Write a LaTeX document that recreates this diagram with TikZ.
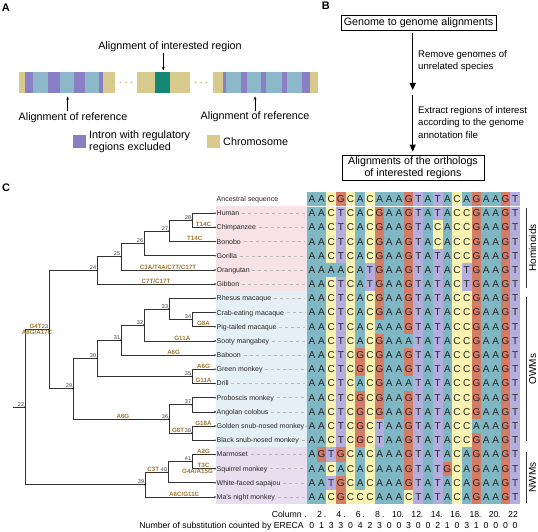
\documentclass[tikz,border=0pt]{standalone}
\usepackage{fontspec}
\setmainfont{Liberation Sans}
\usepackage{xstring}
\usetikzlibrary{arrows.meta}

\definecolor{intron}{RGB}{138,126,196}
\definecolor{exon}{RGB}{141,184,201}
\definecolor{chrom}{RGB}{216,202,140}
\definecolor{region}{RGB}{20,134,118}
\definecolor{nucA}{RGB}{128,183,196}
\definecolor{nucC}{RGB}{248,243,178}
\definecolor{nucG}{RGB}{212,124,102}
\definecolor{nucT}{RGB}{181,173,221}
\definecolor{mutcol}{RGB}{158,117,46}
\definecolor{hominoid}{RGB}{247,226,231}
\definecolor{owm}{RGB}{229,240,246}
\definecolor{nwm}{RGB}{231,222,240}

\begin{document}
\begin{tikzpicture}[x=1pt, y=-1pt,
    panel/.style={anchor=north west, inner sep=0pt, font=\bfseries\fontsize{11}{11}\selectfont},
    txt/.style={inner sep=0pt, font=\fontsize{10.8}{12}\selectfont},
    note/.style={inner sep=0pt, align=left, font=\fontsize{9.6}{12.5}\selectfont},
    stepbox/.style={draw, line width=0.8pt, inner sep=0pt, align=center, font=\fontsize{10.7}{11.8}\selectfont},
    flow/.style={line width=1.3pt, -{Triangle[length=7pt,width=6pt]}},
    pointer/.style={line width=0.6pt, -{Stealth[length=3.5pt,width=2.6pt]}},
    sp/.style={anchor=west, inner xsep=1.5pt, inner ysep=0pt, text height=5pt, text depth=0pt, font=\fontsize{7}{7}\selectfont, text=black!85},
    guide/.style={gray!55, line width=0.4pt, dash pattern=on 3pt off 3pt},
    br/.style={line width=0.7pt, black!80},
    mut/.style={above, inner sep=0.4pt, text=mutcol, font=\bfseries\fontsize{6.2}{6.2}\selectfont},
    nid/.style={anchor=south east, inner sep=0.7pt, text=black!75, font=\fontsize{5.5}{5.5}\selectfont},
    nuc/.style={inner sep=0pt, text=black!85, font=\fontsize{10}{10}\selectfont},
    ruler/.style={anchor=base, inner sep=0pt, font=\fontsize{8.7}{8.7}\selectfont},
    grp/.style={rotate=90, inner sep=0pt, font=\fontsize{10}{10}\selectfont},
    grpline/.style={line width=0.6pt, black!80}]
\useasboundingbox (0,0) rectangle (538,532);

% ---------------- A: chromosome bars
\node[panel] at (1.7,3.3) {A};
\foreach \a/\b/\c in {19/25/chrom, 25/33/intron, 33/48/exon, 48/60/intron, 60/74/exon,
    74/85/intron, 85/99/exon, 99/103/intron, 103/115/chrom,
    137/155/chrom, 155/170/region, 170/190/chrom,
    213/223/chrom, 223/226/intron, 226/241/exon, 241/247/intron, 247/261/exon,
    261/266/intron, 266/282/exon, 282/287/intron, 287/302/exon, 302/310/intron, 310/318/chrom}
  \fill[\c] (\a,71.7) rectangle (\b,93.3);
\foreach \d in {120.5,126,131.5,195.5,201,206.5}
  \fill[chrom] (\d,82.5) circle (1.2);

\node[txt, anchor=base] (irlab) at (170,49.3) {Alignment of interested region};
\coordinate (irtip) at (163.3,70.5);
\draw[pointer] ([yshift=-0.8pt]irlab.south -| irtip) -- (irtip);

\node[txt, anchor=base] (refl) at (73,120.7) {Alignment of reference};
\node[txt, anchor=base] (refr) at (255,120) {Alignment of reference};
\coordinate (refltip) at (67.7,96.3);
\coordinate (refrtip) at (255,96.3);
\draw[pointer] ([yshift=1.2pt]refl.north -| refltip) -- (refltip);
\draw[pointer] ([yshift=1.2pt]refr.north -| refrtip) -- (refrtip);

% legend
\fill[intron] (73,135) rectangle (86,148);
\node[txt, anchor=west, align=left] (intronlab) at (89,141.5) {Intron with regulatory\\regions excluded};
\fill[chrom] (207,135) rectangle (220,148);
\node[txt, anchor=west] (chromlab) at (223,141.5) {Chromosome};

% ---------------- B: workflow
\node[panel] at (321.7,1.8) {B};
\node[stepbox, minimum width=155pt, minimum height=15pt] (g2g) at (418.5,22.5) {Genome to genome alignments};
\node[stepbox, minimum width=142pt, minimum height=25pt] (orth) at (413,167.5) {Alignments of the orthologs\\of interested regions};
\coordinate (gap) at (412.7,92.7);
\draw[flow] ([yshift=-3pt]g2g.south -| gap) -- ([yshift=2.7pt]gap);
\draw[flow] ([yshift=-2.3pt]gap) -- ([yshift=3pt]orth.north -| gap);
\node[note, anchor=west] (step1) at (418,61) {Remove genomes of\\unrelated species};
\node[note, anchor=west] (step2) at (418,122.5) {Extract regions of interest\\according to the genome\\annotation file};

% ---------------- C: tree and alignment
\node[panel] at (2,184) {C};
\fill[hominoid] (215.5,206.1) rectangle (307,291.2);
\fill[owm] (215.5,291.2) rectangle (307,447.3);
\fill[nwm] (215.5,447.3) rectangle (307,504.1);
\coordinate (alnleft) at (305,0);

\node[sp] (anc) at (215,199) {Ancestral sequence};
\foreach \nm/\lab [count=\r] in {human/Human, chimp/Chimpanzee, bonobo/Bonobo, gorilla/Gorilla,
    orangutan/Orangutan, gibbon/Gibbon, rhesus/Rhesus macaque, crab/Crab-eating macaque,
    pig/Pig-tailed macaque, sooty/Sooty mangabey, baboon/Baboon, greenmk/Green monkey,
    drill/Drill, proboscis/Proboscis monkey, colobus/Angolan colobus,
    golden/Golden snub-nosed monkey, blacksnub/Black snub-nosed monkey, marmoset/Marmoset,
    squirrel/Squirrel monkey, sapajou/White-faced sapajou, mas/Ma's night monkey} {
  \node[sp] (\nm) at (215,{199+14.19*\r}) {\lab};
  \draw[guide] ([xshift=1pt]\nm.east) -- (\nm.east -| alnleft);
  \fill[black!85] (\nm.west) circle (0.9);
}

% alignment, one row per sequence
\foreach \s [count=\r from 0] in {AACGCACAAAGTATACAGAAGT,
    AACTCACGAAGTATACCGAAGT, AACTCACGAAGTACACCGAAGT, AACTCACGAAGTACACCGAAGT,
    AACTCACGAAGTATACCGAAGT, AAAACATGAAGTATACTGAAGT, AACTCATGAAGTATACTGAAGT,
    AACTCACGAAGTATACCGAAGT, AACTCACGAAGTATACCGAAGT, AACTCACAAAGTATACCGAAGT,
    AACTCACGAAATATACCGAAGT, AACTCGCGAAGTATACCGAAGT, AACTCGCGAAGTATACCGAAGT,
    AACTCACGAAATATACCGAAGT, AACTCGCGAAGTATACCGAAGT, AACTCGCGAAGTATACCGAAGT,
    AACTCGCTAAGTATACCAAAGT, AACTCGCTAAGTATACCGAAGT, AGTGCACAAAGTATACAGAAGT,
    AACACACAAAGTATGCAGAAGT, AATGCACAAAGTATACAGAAGT, AACGCCCAAACTATACAGAAGT} {
  \foreach \j in {1,...,22} {
    \StrChar{\s}{\j}[\ch]
    \fill[fill=nuc\ch] ({307+9.68*(\j-1)},{191.9+14.19*\r}) rectangle ++(9.68,14.19);
    \node[nuc] at ({311.84+9.68*(\j-1)},{199+14.19*\r}) {\ch};
  }
}
\draw[white, line width=0.7pt] (307,206.1) -- (520,206.1);

% groups
\foreach \t/\b/\lab in {208/288/Hominoids, 297/441/OWMs, 452/503/NWMs} {
  \draw[grpline] (526,\t) -- (526,\b);
  \node[grp] at (532.6,{(\t+\b)/2}) {\lab};
}

% tree nodes
\coordinate (root) at (13,407.0);
\coordinate (n22) at (25,407.0);
\coordinate (n23) at (49,329.5);
\coordinate (n24) at (97,270.4);
\coordinate (n25) at (121,256.7);
\coordinate (n26) at (144,243.4);
\coordinate (n27) at (169,231.0);
\coordinate (n28) at (192,220.3);
\coordinate (n29) at (73,388.6);
\coordinate (n30) at (97,358.2);
\coordinate (n31) at (121,340.0);
\coordinate (n32) at (144,325.0);
\coordinate (n33) at (169,309.0);
\coordinate (n34) at (192,319.6);
\coordinate (n35) at (192,376.4);
\coordinate (n36) at (169,419.0);
\coordinate (n37) at (192,404.8);
\coordinate (n38) at (192,433.1);
\coordinate (n39) at (145,484.6);
\coordinate (n40) at (168,472.2);
\coordinate (n41) at (192,461.5);

% branches
\draw[br] (root) -- (n22);
\draw[br] (n22) |- node[mut,pos=0.72]{G4T} node[mut,below,pos=0.75]{A8G/A17C} (n23);
\draw[br] (n22) |- (n39);
\draw[br] (n23) |- (n24);
\draw[br] (n23) |- (n29);
\draw[br] (n24) |- (n25);
\draw[br] (n24) |- node[mut,pos=0.75]{C7T/C17T} (gibbon.west);
\draw[br] (n25) |- (n26);
\draw[br] (n25) |- node[mut,pos=0.75]{C3A/T4A/C7T/C17T} (orangutan.west);
\draw[br] (n26) |- (n27);
\draw[br] (n26) |- (gorilla.west);
\draw[br] (n27) |- (n28);
\draw[br] (n27) |- node[mut,pos=0.78]{T14C} (bonobo.west);
\draw[br] (n28) |- (human.west);
\draw[br] (n28) |- node[mut,pos=0.75]{T14C} (chimp.west);
\draw[br] (n29) |- (n30);
\draw[br] (n29) |- node[mut,pos=0.76]{A6G} (n36);
\draw[br] (n30) |- (n31);
\draw[br] (n30) |- (n35);
\draw[br] (n31) |- (n32);
\draw[br] (n31) |- node[mut,pos=0.78]{A6G} (baboon.west);
\draw[br] (n32) |- (n33);
\draw[br] (n32) |- node[mut,pos=0.77]{G11A} (sooty.west);
\draw[br] (n33) |- (rhesus.west);
\draw[br] (n33) |- (n34);
\draw[br] (n34) |- (crab.west);
\draw[br] (n34) |- node[mut,pos=0.75]{G8A} (pig.west);
\draw[br] (n35) |- node[mut,pos=0.75]{A6G} (greenmk.west);
\draw[br] (n35) |- node[mut,pos=0.75]{G11A} (drill.west);
\draw[br] (n36) |- (n37);
\draw[br] (n36) |- node[mut,pos=0.7]{G8T} (n38);
\draw[br] (n37) |- (proboscis.west);
\draw[br] (n37) |- (colobus.west);
\draw[br] (n38) |- node[mut,pos=0.75]{G18A} (golden.west);
\draw[br] (n38) |- (blacksnub.west);
\draw[br] (n39) |- node[mut,pos=0.68]{C3T} (n40);
\draw[br] (n39) |- node[mut,pos=0.78]{A6C/G11C} (mas.west);
\draw[br] (n40) |- (n41);
\draw[br] (n40) |- (sapajou.west);
\draw[br] (n41) |- node[mut,pos=0.75]{A2G} (marmoset.west);
\draw[br] (n41) |- node[mut,pos=0.75]{T3C} node[mut,below,pos=0.62]{G4A/A15G} (squirrel.west);

\foreach \n in {22,...,41} {
  \fill[black!85] (n\n) circle (0.9);
  \node[nid] at (n\n) {\n};
}

% ruler below the alignment
\node[ruler, anchor=base east] (collab) at (302,517.1) {Column};
\foreach \j in {1,...,22} {
  \ifodd\j
    \node[ruler] at ({305.8+9.68*(\j-1)},517.1) {.};
  \else
    \node[ruler] at ({309.8+9.68*(\j-1)},517.1) {\j};
  \fi
}
\node[ruler, anchor=base east] (sublab) at (304,528) {Number of substitution counted by ERECA};
\foreach \c [count=\j] in {0,1,3,3,0,4,2,3,0,0,3,0,0,2,1,0,3,1,0,0,0,0}
  \node[ruler] at ({311.84+9.68*(\j-1)},528) {\c};
\end{tikzpicture}
\end{document}
